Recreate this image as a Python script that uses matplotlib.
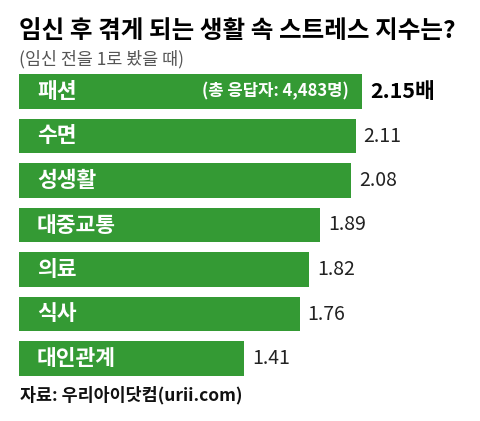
import matplotlib
matplotlib.use("Agg")
from matplotlib import pyplot as plt

plt.rcParams['font.family'] = ['Noto Sans CJK KR', 'DejaVu Sans']

title = "임신 후 겪게 되는 생활 속 스트레스 지수는?"
subtitle = "(임신 전을 1로 봤을 때)"
source = "자료: 우리아이닷컴(urii.com)"
respondents = "(총 응답자: 4,483명)"
categories = ["패션", "수면", "성생활", "대중교통", "의료", "식사", "대인관계"]
values = [2.15, 2.11, 2.08, 1.89, 1.82, 1.76, 1.41]

W, H = 480, 421
GREEN = "#349a34"
PX = 72 / 100  # points per pixel at dpi 100

fig = plt.figure(figsize=(W / 100, H / 100), dpi=100)
# one value unit ~ 159.5 px, bars start at x=19px
ax = fig.add_axes([19 / W, 1 - 380.75 / H, 461 / W, 311.5 / H])
ax.set_xlim(0, 461 / 159.5)
ax.set_ylim(len(categories) - 0.5, -0.5)

pos = list(range(len(categories)))
ax.barh(pos, values, height=0.765, color=GREEN, edgecolor='none')

for i, (cat, v) in enumerate(zip(categories, values)):
    ax.annotate(cat, (0, i), xytext=(18 * PX, 0), textcoords='offset points',
                ha='left', va='center', color='white', fontsize=15.5, fontweight='bold')
    if i == 0:
        ax.annotate(f"{v:.2f}배", (v, i), xytext=(8 * PX, 0), textcoords='offset points',
                    ha='left', va='center', color='black', fontsize=15.5, fontweight='bold')
        ax.annotate(respondents, (v, i), xytext=(-13 * PX, 0), textcoords='offset points',
                    ha='right', va='center', color='white', fontsize=12, fontweight='bold')
    else:
        ax.annotate(f"{v:.2f}", (v, i), xytext=(8 * PX, 0), textcoords='offset points',
                    ha='left', va='center', color='#222222', fontsize=14)

ax.axis('off')

fig.text(19 / W, 1 - 31 / H, title, ha='left', va='center', fontsize=17.7,
         fontweight='bold', color='black')
fig.text(19 / W, 1 - 59 / H, subtitle, ha='left', va='center', fontsize=12.5,
         color='#555555')
fig.text(20 / W, 1 - 395 / H, source, ha='left', va='center', fontsize=12.5,
         fontweight='bold', color='#111111')

fig.savefig("out.png", dpi=100, facecolor='white')
